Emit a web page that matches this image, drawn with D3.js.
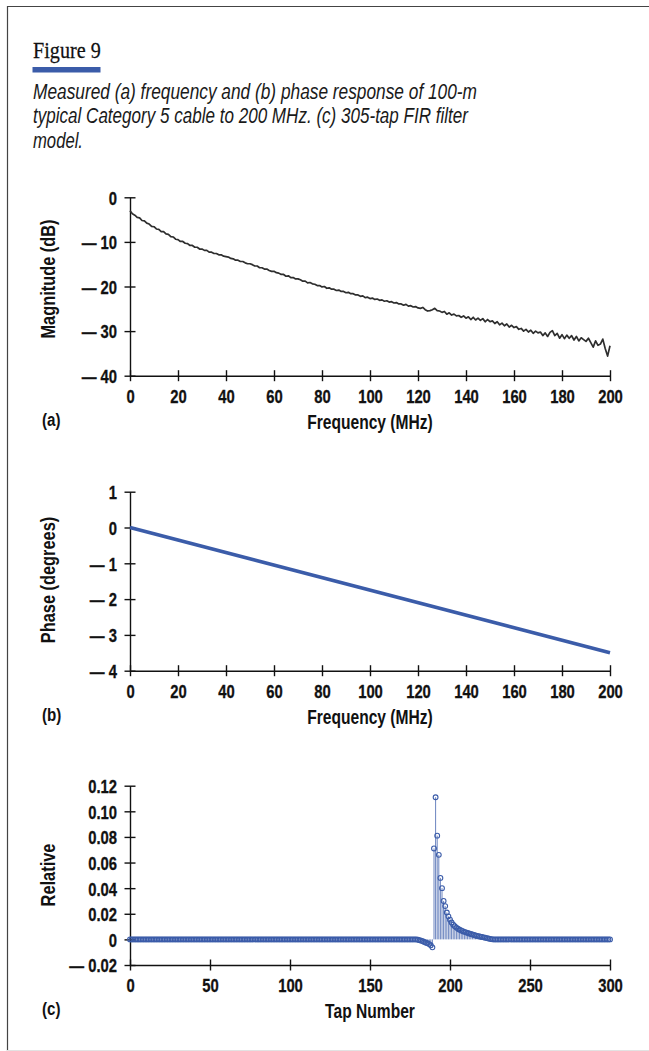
<!DOCTYPE html>
<html><head><meta charset="utf-8">
<script src="https://cdn.jsdelivr.net/npm/d3@7"></script>
<style>
html,body{margin:0;padding:0;background:#fff;}
svg{display:block;}
</style></head>
<body>
<svg id="chart" width="649" height="1051"></svg>
<script>
// ---------------- data ----------------
const figureTitle = "Figure 9";
const captionLines = [
  "Measured (a) frequency and (b) phase response of 100-m",
  "typical Category 5 cable to 200 MHz. (c) 305-tap FIR filter",
  "model."
];

// (a) magnitude response, one reading per MHz (0..200)
const magFreq = d3.range(0, 201);
const magDb = [
  -3.0, -3.7, -4.0, -4.5, -4.6, -5.2, -5.3, -5.8, -6.0, -6.5, -6.6,
  -7.1, -7.2, -7.7, -7.7, -8.2, -8.3, -8.8, -8.9, -9.4, -9.5,
  -9.9, -9.9, -10.3, -10.4, -10.8, -10.8, -11.2, -11.2, -11.6, -11.6,
  -11.9, -11.9, -12.3, -12.3, -12.6, -12.6, -12.9, -12.9, -13.2, -13.3,
  -13.4, -13.7, -13.8, -14.1, -14.1, -14.4, -14.4, -14.7, -14.9, -14.9,
  -15.1, -15.4, -15.4, -15.8, -15.8, -16.1, -16.1, -16.4, -16.6, -16.6,
  -16.9, -17.0, -17.3, -17.3, -17.7, -17.6, -18.0, -18.0, -18.3, -18.3,
  -18.5, -18.8, -18.8, -19.2, -19.1, -19.4, -19.5, -19.8, -19.8, -20.1,
  -20.0, -20.4, -20.3, -20.6, -20.6, -20.9, -20.8, -21.1, -21.1, -21.4,
  -21.3, -21.6, -21.6, -21.9, -21.9, -22.2, -22.1, -22.5, -22.4, -22.7,
  -22.6, -22.9, -22.8, -23.1, -23.0, -23.3, -23.2, -23.5, -23.4, -23.7,
  -23.6, -23.9, -23.9, -24.2, -24.0, -24.4, -24.3, -24.6, -24.5, -24.8,
  -24.9, -24.7, -25.2, -25.5, -25.4, -25.2, -24.9, -25.4, -25.5, -25.8,
  -25.6, -26.2, -25.9, -26.4, -26.2, -26.6, -26.5, -26.9, -26.6, -27.1,
  -26.8, -27.4, -26.9, -27.5, -27.1, -27.6, -27.2, -27.9, -27.4, -27.9,
  -27.7, -28.3, -27.9, -28.6, -28.2, -28.8, -28.4, -29.1, -28.7, -29.2,
  -29.0, -29.6, -29.4, -30.0, -29.6, -30.2, -29.8, -30.5, -30.0, -30.4,
  -30.2, -31.0, -30.4, -31.2, -30.3, -29.9, -31.0, -30.5, -31.6, -30.8,
  -31.7, -30.9, -31.6, -31.0, -32.0, -31.2, -32.2, -31.5, -31.9, -32.3,
  -31.6, -32.6, -33.6, -32.2, -33.2, -32.9, -31.8, -33.9, -35.6, -33.3
];
const freqTicks = [0, 20, 40, 60, 80, 100, 120, 140, 160, 180, 200];
const magTicks = [0, -10, -20, -30, -40];

// (b) phase response
const phaseFreq = [0, 200];
const phaseDeg = [0, -3.5];
const phaseTicks = [1, 0, -1, -2, -3, -4];

// (c) FIR filter taps 0..300
const tapNumbers = d3.range(0, 301);
const tapValues = [
  0,0,0,0,0,0,0,0,0,0,0,0,0,0,0,0,0,0,0,0,
  0,0,0,0,0,0,0,0,0,0,0,0,0,0,0,0,0,0,0,0,
  0,0,0,0,0,0,0,0,0,0,0,0,0,0,0,0,0,0,0,0,
  0,0,0,0,0,0,0,0,0,0,0,0,0,0,0,0,0,0,0,0,
  0,0,0,0,0,0,0,0,0,0,0,0,0,0,0,0,0,0,0,0,
  0,0,0,0,0,0,0,0,0,0,0,0,0,0,0,0,0,0,0,0,
  0,0,0,0,0,0,0,0,0,0,0,0,0,0,0,0,0,0,0,0,
  0,0,0,0,0,0,0,0,0,0,0,0,0,0,0,0,0,0,0,0,
  0,0,0,0,0,0,0,0,0,0,0,0,0,0,0,0,0,0,0,0,
  -0.0003, -0.0006, -0.0010, -0.0015, -0.0020, -0.0026, -0.0030, -0.0037, -0.0046, -0.0062,
  0.071, 0.111, 0.081, 0.066, 0.048, 0.040, 0.030, 0.026, 0.021, 0.018,
  0.0154, 0.0132, 0.0115, 0.0102, 0.0092, 0.0083, 0.0076, 0.0070, 0.0064, 0.0059,
  0.0055, 0.0050, 0.0046, 0.0042, 0.0038, 0.0034, 0.0030, 0.0027, 0.0024, 0.0021,
  0.0019, 0.0016, 0.0013, 0.0010, 0.0007, 0.0004, 0.0002,
  0,0,0,0,0,0,0,0,0,0,0,0,0,0,0,0,0,0,0,0,
  0,0,0,0,0,0,0,0,0,0,0,0,0,0,0,0,0,0,0,0,
  0,0,0,0,0,0,0,0,0,0,0,0,0,0,0,0,0,0,0,0,
  0,0,0,0,0,0,0,0,0,0,0,0,0,0
];
const tapTicks = [0, 50, 100, 150, 200, 250, 300];
const relTicks = [-0.02, 0, 0.02, 0.04, 0.06, 0.08, 0.10, 0.12];

// ---------------- drawing ----------------
const svg = d3.select('#chart');
const SANS = "'Liberation Sans', Arial, Helvetica, sans-serif";
const SERIF = "'Liberation Serif', 'Times New Roman', serif";
const BLUE = '#3b5ca9';
const INK = '#111';
const SX = 0.78;      // horizontal condensing of the bold labels
const TICK_FS = 19;

// frame
svg.append('path').attr('d', 'M7.5,1051 V6.5 H649')
  .attr('fill', 'none').attr('stroke', '#444').attr('stroke-width', 1.2);
svg.append('line').attr('x1', 7).attr('x2', 649).attr('y1', 1050.5).attr('y2', 1050.5)
  .attr('stroke', '#e2e2e2').attr('stroke-width', 1);

// title + bar
svg.append('text')
  .attr('transform', 'translate(33,58) scale(0.84,1)')
  .attr('font-family', SERIF).attr('font-size', 24).attr('fill', '#111')
  .attr('stroke', '#111').attr('stroke-width', 0.25)
  .text(figureTitle);
svg.append('rect').attr('x', 32.5).attr('y', 67).attr('width', 68).attr('height', 5.5).attr('fill', BLUE);

// caption
const capWidths = [444, 435, 50];
const capBase = [99, 123.3, 147.7];
captionLines.forEach((t, i) => {
  svg.append('text')
    .attr('x', 33).attr('y', capBase[i])
    .attr('font-family', SANS).attr('font-style', 'italic').attr('font-size', 22.5)
    .attr('fill', '#1a1a1a')
    .attr('textLength', capWidths[i]).attr('lengthAdjust', 'spacingAndGlyphs')
    .text(t);
});

function condText(g, x, y, str, o = {}) {
  const size = o.size || 19, sx = o.sx || 0.82, rot = o.rotate || 0;
  return g.append('text')
    .attr('transform', `translate(${x},${y})` + (rot ? ` rotate(${rot})` : '') + ` scale(${sx},1)`)
    .attr('font-family', SANS).attr('font-weight', 'bold').attr('font-size', size)
    .attr('fill', INK).attr('text-anchor', o.anchor || 'start')
    .text(str);
}

function dashFmt(v) {
  return v < 0 ? '\u2014 ' + Math.abs(v) : String(v);
}
function relFmt(v) {
  if (Math.abs(v) < 1e-9) return '0';
  return (v < 0 ? '\u2014 ' : '') + Math.abs(v).toFixed(2);
}

function panel(cfg) {
  const g = svg.append('g');
  const x = d3.scaleLinear().domain(cfg.xDomain).range([130, 610]);
  const y = d3.scaleLinear().domain(cfg.yDomain).range([cfg.yBot, cfg.yTop]);

  // x axis
  const xa = g.append('g').attr('transform', `translate(0,${cfg.yBot})`)
    .call(d3.axisBottom(x).tickValues(cfg.xTicks).tickSizeOuter(0).tickFormat(d => String(d)));
  xa.select('.domain').attr('stroke', INK).attr('stroke-width', 1.4);
  xa.selectAll('.tick line').attr('y1', -5.5).attr('y2', 5.5).attr('stroke', INK).attr('stroke-width', 1.4);
  xa.selectAll('.tick text').attr('y', 27.5).attr('dy', 0)
    .attr('transform', `scale(${SX},1)`)
    .attr('font-family', SANS).attr('font-weight', 'bold').attr('font-size', TICK_FS).attr('fill', INK)
    .attr('stroke', INK).attr('stroke-width', 0.3);

  // y axis
  const ya = g.append('g').attr('transform', 'translate(130,0)')
    .call(d3.axisLeft(y).tickValues(cfg.yTicks).tickSizeOuter(0).tickFormat(cfg.yFmt));
  ya.select('.domain').attr('stroke', INK).attr('stroke-width', 1.4);
  ya.selectAll('.tick line').attr('x1', -5.5).attr('x2', 5.5).attr('stroke', INK).attr('stroke-width', 1.4);
  ya.selectAll('.tick text').attr('x', -13 / SX).attr('dy', '0.36em')
    .attr('transform', `scale(${SX},1)`)
    .attr('font-family', SANS).attr('font-weight', 'bold').attr('font-size', TICK_FS).attr('fill', INK)
    .attr('stroke', INK).attr('stroke-width', 0.3);

  // titles
  condText(g, 370, cfg.yBot + 53, cfg.xTitle, { anchor: 'middle', size: 19.5, sx: 0.8 });
  condText(g, 55, cfg.yTitleCenter, cfg.yTitle, { anchor: 'middle', size: 19.5, sx: 0.84, rotate: -90 });
  condText(g, 42, cfg.yBot + 50, cfg.tag, { size: 18.5, sx: 0.82 });
  return { g, x, y };
}

// (a)
const pa = panel({
  xDomain: [0, 200], yDomain: [-40, 0], yTop: 197.3, yBot: 375.7,
  xTicks: freqTicks, yTicks: magTicks, yFmt: dashFmt,
  xTitle: 'Frequency (MHz)', yTitle: 'Magnitude (dB)', yTitleCenter: 279, tag: '(a)'
});
pa.g.append('path')
  .datum(magFreq.map((f, i) => [f, magDb[i]]))
  .attr('fill', 'none').attr('stroke', '#2e2e2e').attr('stroke-width', 1.7)
  .attr('stroke-linejoin', 'round')
  .attr('d', d3.line().x(d => pa.x(d[0])).y(d => pa.y(d[1])));

// (b)
const pb = panel({
  xDomain: [0, 200], yDomain: [-4, 1], yTop: 491.7, yBot: 670.7,
  xTicks: freqTicks, yTicks: phaseTicks, yFmt: dashFmt,
  xTitle: 'Frequency (MHz)', yTitle: 'Phase (degrees)', yTitleCenter: 580, tag: '(b)'
});
pb.g.append('path')
  .datum(phaseFreq.map((f, i) => [f, phaseDeg[i]]))
  .attr('fill', 'none').attr('stroke', BLUE).attr('stroke-width', 3.6)
  .attr('stroke-linecap', 'butt')
  .attr('d', d3.line().x(d => pb.x(d[0])).y(d => pb.y(d[1])));

// (c)
const pc = panel({
  xDomain: [0, 300], yDomain: [-0.02, 0.12], yTop: 785.7, yBot: 965,
  xTicks: tapTicks, yTicks: relTicks, yFmt: relFmt,
  xTitle: 'Tap Number', yTitle: 'Relative', yTitleCenter: 875, tag: '(c)'
});
const taps = tapNumbers.map((n, i) => ({ n, v: tapValues[i] }));
pc.g.append('g').selectAll('line').data(taps.filter(d => d.v !== 0)).join('line')
  .attr('x1', d => pc.x(d.n)).attr('x2', d => pc.x(d.n))
  .attr('y1', pc.y(0)).attr('y2', d => pc.y(d.v))
  .attr('stroke', BLUE).attr('stroke-width', 1).attr('stroke-opacity', 0.75);
pc.g.append('g').selectAll('circle').data(taps).join('circle')
  .attr('cx', d => pc.x(d.n)).attr('cy', d => pc.y(d.v)).attr('r', 2.4)
  .attr('fill', 'none').attr('stroke', BLUE).attr('stroke-width', 1.1);
</script>
</body></html>
